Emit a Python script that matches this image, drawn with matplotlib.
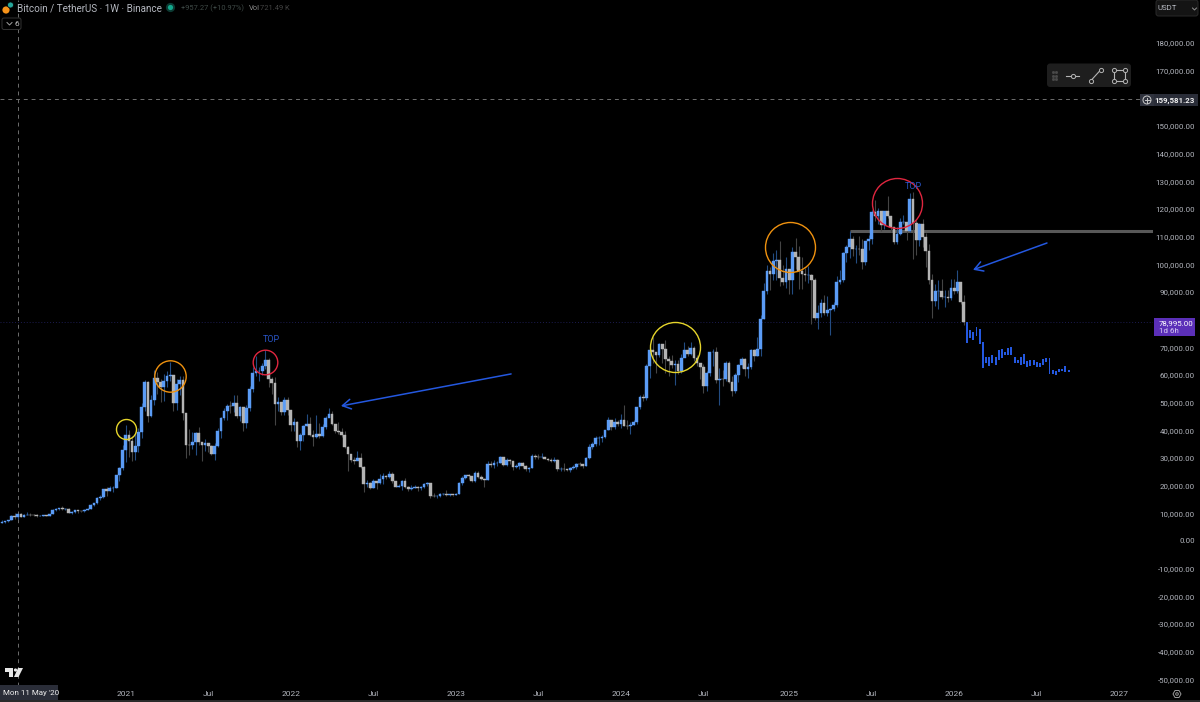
import numpy as np
from matplotlib import pyplot as plt
from matplotlib.patches import Circle, FancyBboxPatch, Polygon, Rectangle

plt.rcParams['font.family'] = ['Roboto', 'DejaVu Sans']

# weekly closes, week 0 is Mon 4 Jan 2021
closes_2020 = [6890, 7120, 7540, 8860, 8720, 9680, 8720, 9440, 9460, 9330, 9300, 9010, 9070, 9300, 9160, 9700, 11050, 11570, 11850, 11650, 11710, 10250, 10300, 11080, 10730, 10670, 11370, 11500, 13030, 13760, 15480, 15960, 18680, 18180, 19150, 19270, 23860, 26440, 33000]
highs_2020 = [7460, 7300, 7740, 9460, 10070, 9930, 9950, 9740, 10380, 10000, 9590, 9780, 9320, 9480, 9400, 9900, 11400, 11900, 12090, 12480, 11800, 12090, 10800, 11180, 11180, 10950, 11480, 11750, 13220, 13860, 15970, 16500, 18970, 19480, 19920, 19700, 23900, 26900, 34700]
lows_2020 = [6420, 6460, 6800, 7500, 8100, 8100, 8800, 8650, 9280, 9000, 8900, 8830, 8900, 9040, 9000, 9030, 9700, 10950, 11160, 11200, 11120, 10000, 9880, 10240, 10130, 10300, 10400, 11200, 11400, 12750, 13200, 14900, 15700, 16300, 18000, 17600, 19000, 21800, 25800]

closes_2021 = [38150, 36020, 32090, 34270, 39250, 48580, 57410, 45240, 50970, 59020, 57350, 55780, 58000, 59770, 60000, 50000, 56600, 58200, 46430, 34700, 34600, 35800, 39000, 35600, 34700, 35300, 34240, 31530, 34280, 39870, 44600, 47000, 48870, 48800, 49900, 45160, 48300, 42670, 48200, 54900, 60860, 61300, 61300, 63270, 65500, 58600, 57270, 49400, 50090, 46680, 50800, 47300]
highs_2021 = [41950, 40100, 37850, 38500, 41000, 49700, 58350, 58000, 52600, 61800, 61200, 58400, 60200, 61300, 64850, 57500, 58500, 59500, 59600, 45800, 40500, 39500, 39400, 41300, 35800, 36700, 35100, 34600, 35400, 40900, 44700, 48200, 49400, 50500, 52900, 52900, 48800, 48400, 49200, 56000, 62900, 67000, 63000, 64300, 69000, 66300, 59400, 59200, 51900, 49500, 51900, 52100]
lows_2021 = [28500, 30400, 28800, 29200, 32300, 37300, 47000, 43000, 44900, 49300, 53200, 50400, 50500, 55500, 58000, 47000, 47400, 52900, 43800, 30000, 31000, 33400, 31000, 34800, 28800, 32700, 32100, 31000, 29300, 33800, 37300, 43700, 43900, 46400, 46500, 44400, 43300, 39600, 40700, 47100, 53900, 59500, 57800, 60000, 62300, 55600, 53300, 42000, 46900, 45500, 45600, 45700]

closes_2022 = [41860, 43100, 36280, 38150, 41400, 42200, 38400, 37700, 38800, 37800, 41300, 44500, 45800, 42150, 39700, 39450, 38470, 34050, 31300, 29450, 29020, 29900, 26570, 20570, 21030, 19300, 21590, 20830, 22570, 23630, 23170, 24300, 21520, 19550, 19990, 21830, 19420, 18800, 19310, 19440, 19260, 19570, 20620, 20900, 16330, 16280, 16430, 16880, 17100, 16630, 16840, 16610]
highs_2022 = [47500, 44500, 43500, 38900, 41900, 45850, 44800, 40000, 45400, 42600, 42400, 45200, 48200, 47000, 42400, 42950, 40800, 39900, 34300, 30700, 30200, 32400, 31800, 27000, 22000, 21500, 22500, 21700, 24300, 24700, 23700, 25200, 25000, 21800, 20600, 21900, 22800, 19700, 20400, 20400, 20000, 19700, 20900, 21300, 21000, 17200, 16800, 17300, 17400, 18400, 17000, 16800]
lows_2022 = [39700, 39600, 34000, 32900, 36200, 41600, 38000, 34300, 37200, 37200, 37600, 40500, 45200, 42000, 39200, 38500, 37600, 33700, 25400, 28700, 28000, 29300, 26500, 17600, 19600, 18800, 19000, 18900, 20700, 20700, 22500, 22700, 20800, 19500, 19500, 18500, 19300, 18100, 18500, 19100, 18200, 18600, 19200, 20000, 15600, 15800, 15500, 16000, 16700, 16200, 16300, 16300]

closes_2023 = [17130, 20870, 22700, 23770, 23320, 21860, 24600, 23170, 22430, 22150, 27950, 27480, 28170, 28320, 30300, 27590, 29230, 28900, 26780, 27120, 28070, 27110, 25880, 26340, 30540, 30470, 30290, 30290, 29770, 29230, 29050, 29420, 26050, 26100, 25870, 25830, 26530, 26580, 27970, 27930, 27160, 29990, 34080, 35010, 37060, 37380, 37450, 39970, 43790, 41370, 43000, 42280]
highs_2023 = [17400, 21300, 23350, 23800, 24250, 23450, 25250, 25130, 23880, 22600, 28900, 28870, 29180, 28800, 30600, 30500, 30000, 29800, 28900, 27650, 28450, 28450, 27400, 26800, 31400, 31280, 31500, 31800, 30300, 30000, 30050, 30250, 29660, 26800, 28100, 26100, 26900, 27480, 28050, 28600, 28000, 30200, 35200, 35950, 37970, 37980, 38400, 40250, 44700, 43400, 44300, 43800]
lows_2023 = [16500, 17100, 20400, 22300, 22500, 21400, 21500, 22750, 21950, 19550, 21900, 26600, 26500, 27200, 28100, 27100, 27000, 27650, 25800, 26350, 25850, 26500, 25350, 24800, 26250, 29500, 29800, 29900, 29500, 28900, 28600, 28700, 25160, 25350, 25330, 25350, 24900, 26000, 25900, 27200, 26550, 27100, 29600, 33400, 34500, 34800, 35600, 37200, 39950, 40200, 40500, 41400]

closes_2024 = [43900, 41730, 41580, 42030, 43000, 48300, 52100, 51730, 63100, 68950, 68400, 67200, 71280, 69360, 65660, 64940, 63430, 64000, 61480, 66270, 69000, 67760, 69650, 66220, 64250, 62770, 55850, 60800, 68160, 68250, 58160, 58700, 58430, 64200, 57300, 54150, 60000, 63580, 65880, 62100, 62850, 69000, 67000, 69400, 80400, 90500, 97700, 96400, 101200, 101400, 95200, 93700, 98400]
highs_2024 = [45900, 48970, 43570, 42850, 43880, 48600, 52800, 52980, 64000, 70100, 73780, 68100, 71700, 71350, 72800, 66900, 67200, 65500, 65500, 67700, 71980, 70600, 71950, 70500, 67300, 63400, 63800, 61400, 68400, 69400, 70000, 62700, 61800, 65000, 64900, 59800, 60600, 64100, 66500, 66000, 64400, 69400, 69500, 73600, 81500, 93300, 99800, 98900, 104000, 105200, 108300, 99900, 102700]
lows_2024 = [40750, 41500, 40300, 38500, 41900, 42300, 47700, 50500, 50900, 59000, 64500, 60800, 66400, 64500, 60600, 59600, 62400, 56500, 60200, 60750, 66600, 66700, 67100, 65050, 63400, 58400, 53500, 54300, 59500, 63400, 57100, 49100, 56100, 57800, 57200, 52500, 53600, 57500, 62600, 59800, 58900, 62000, 65200, 66800, 66800, 80200, 89300, 90800, 94500, 94200, 92200, 92400, 91500]

closes_2025 = [94500, 104600, 102600, 97700, 96500, 96100, 96200, 94200, 80700, 82500, 86100, 82400, 83500, 83700, 85200, 93700, 94300, 104100, 106400, 109000, 105600, 105700, 105500, 100900, 108300, 109200, 119000, 117300, 119400, 114200, 119300, 117400, 113500, 108200, 111100, 115300, 115300, 112200, 123500, 115000, 108700, 114500, 110000, 104700, 94200, 86800, 90400, 90400, 88100, 88100, 87800, 91500]
highs_2025 = [95900, 106400, 109600, 106500, 102500, 98800, 99500, 96500, 95000, 85300, 87500, 88800, 88500, 84200, 86400, 95700, 97900, 104400, 107100, 111900, 110400, 106800, 110400, 109000, 108500, 110500, 119500, 123200, 120200, 119300, 119300, 124500, 117600, 113500, 113400, 116700, 117900, 113500, 125700, 126200, 115900, 114800, 116400, 111200, 107500, 96600, 93000, 94200, 94600, 90600, 90600, 94800]
lows_2025 = [89200, 89300, 98200, 91200, 91200, 94000, 93300, 78300, 80000, 76600, 81100, 81500, 81300, 74500, 83100, 84600, 92900, 93500, 100700, 102100, 103100, 100400, 103200, 98200, 99600, 105100, 107500, 115700, 114700, 112000, 112700, 116800, 111700, 107300, 107300, 110600, 114500, 108600, 111500, 102000, 103500, 106600, 106300, 98900, 93000, 80500, 85000, 83800, 87600, 84400, 86400, 87000]

closes_2026 = [90500, 93600, 86500, 78995]
highs_2026 = [94800, 97900, 91000, 88800]
lows_2026 = [89300, 89800, 85800, 78000]

# drawn projection after the last real candle
proj_tops = [79030, 76250, 75400, 77200, 76620, 71790, 66500, 66380, 67220, 66380, 69030, 69390, 68300, 69870, 69990, 66500, 65300, 66500, 67460, 64930, 65300, 65410, 64810, 64450, 65770, 66020, 66020, 61800, 61330, 62060, 62160, 63240, 61800]
proj_bottoms = [71440, 73240, 72640, 74090, 71200, 62400, 64210, 63370, 64210, 63610, 65410, 66020, 67220, 67220, 67220, 64210, 64210, 63610, 64090, 62770, 63370, 63610, 63000, 63000, 63730, 64810, 60470, 60350, 60100, 61080, 61330, 61190, 60970]

closes = np.array(closes_2020 + closes_2021 + closes_2022 + closes_2023 + closes_2024 + closes_2025 + closes_2026, dtype=float)
highs = np.array(highs_2020 + highs_2021 + highs_2022 + highs_2023 + highs_2024 + highs_2025 + highs_2026, dtype=float)
lows = np.array(lows_2020 + lows_2021 + lows_2022 + lows_2023 + lows_2024 + lows_2025 + lows_2026, dtype=float)
opens = np.r_[6620, closes[:-1]]
weeks = np.arange(len(closes)) - len(closes_2020)
proj_weeks = weeks[-1] + 1 + np.arange(len(proj_tops))

price_ticks = list(range(-50000, 190000, 10000))
time_ticks = [0, 26, 52, 78, 104, 130, 156, 182, 209, 235, 261, 287, 313]
time_labels = ['2021', 'Jul', '2022', 'Jul', '2023', 'Jul', '2024', 'Jul', '2025', 'Jul', '2026', 'Jul', '2027']

# week, price, diameter in px, colour
circles = [(0.1, 40480, 20, '#e6d52b'), (13.95, 59450, 31.4, '#f0920f'), (44.0, 64690, 24.6, '#e0263f'),
           (173, 70110, 50, '#e6d52b'), (209.2, 106250, 50, '#f0920f'), (243.1, 122150, 50, '#e0263f')]
top_labels = [(46, 72800), (248, 128000)]
arrows = [((121.4, 60380), (67.8, 48800)), ((290.2, 107700), (266.9, 98000))]
level_start = 228.1
level_price = 112000
cross_week = -34
cross_price = 159581.23
last_price = 78995

BLUE = '#5b9cf6'
GREY = '#b4b4b4'
DRAW = '#2458e0'
TICK = '#b4b7bf'
W, H = 1200, 702

fig = plt.figure(figsize=(12, 7.02), dpi=100, facecolor='black')
ax = fig.add_axes([0, 1 - 686 / H, 1153 / W, 686 / H], facecolor='black')
ax.set_xlim(-39.6, 323.6)
ax.set_ylim(-52403, 195514)

ax.axhline(last_price, color='#1c1c50', lw=0.7, ls=(0, (1, 2)), zorder=1)
ax.axhline(cross_price, color='#6e6e6e', lw=0.7, ls=(0, (4, 4)), zorder=1)
ax.axvline(cross_week, color='#6e6e6e', lw=0.7, ls=(0, (4, 4)), zorder=1)
ax.hlines(level_price, level_start, 323.6, color='#585858', lw=2.2, zorder=2)

up = closes >= opens
wick_cols = np.where(up, '#234c82', '#444444')
ax.vlines(weeks, lows, highs, colors=wick_cols, lw=0.8, zorder=3)
body_bottom = np.minimum(opens, closes)
body_height = np.abs(closes - opens)
ax.bar(weeks, body_height, bottom=body_bottom, width=0.85, color=np.where(up, BLUE, GREY),
       edgecolor=np.where(up, BLUE, GREY), lw=0.3, zorder=4)
ax.bar(proj_weeks, np.array(proj_tops) - np.array(proj_bottoms), bottom=proj_bottoms, width=0.62,
       color=DRAW, lw=0, zorder=4)

for wk, price, size, col in circles:
    ax.plot([wk], [price], marker='o', ms=size * 0.72, mfc='none', mec=col, mew=1.0, zorder=5)
for wk, price in top_labels:
    ax.text(wk, price, 'TOP', color='#2a56c8', fontsize=6.5, ha='center', va='center', zorder=6)
for tail, head in arrows:
    ax.annotate('', xy=head, xytext=tail, zorder=6,
                arrowprops=dict(arrowstyle='->,head_length=0.6,head_width=0.35', color=DRAW, lw=1.1,
                                shrinkA=0, shrinkB=0))

ax.set_yticks(price_ticks)
ax.set_yticklabels(['{:,.2f}'.format(p) for p in price_ticks])
ax.yaxis.tick_right()
ax.tick_params(axis='y', length=0, pad=30, labelsize=5.7, labelcolor=TICK)
for lab in ax.get_yticklabels():
    lab.set_ha('right')
ax.set_xticks(time_ticks)
ax.set_xticklabels(time_labels)
ax.tick_params(axis='x', length=0, pad=3.5, labelsize=6.0, labelcolor=TICK)
for side in ax.spines.values():
    side.set_visible(False)

# chrome of the trading screen, in screen pixels
ui = fig.add_axes([0, 0, 1, 1], facecolor='none', zorder=10)
ui.set_xlim(0, W)
ui.set_ylim(H, 0)
ui.axis('off')


def box(x0, y0, x1, y1, col, edge='none', rad=0.0):
    if rad:
        ui.add_patch(FancyBboxPatch((x0, y0), x1 - x0, y1 - y0, boxstyle='round,pad=0,rounding_size=%s' % rad,
                                    fc=col, ec=edge, lw=0.7))
    else:
        ui.add_patch(Rectangle((x0, y0), x1 - x0, y1 - y0, fc=col, ec=edge, lw=0.7))


def label(x, y, s, col, size=5.7, ha='left', weight='normal'):
    ui.text(x, y, s, color=col, fontsize=size, ha=ha, va='center', fontweight=weight)


# header
ui.add_patch(Circle((6, 10), 3.6, fc='#f7931a', ec='none'))
ui.add_patch(Circle((10.5, 5), 3.0, fc='#26a69a', ec='black', lw=0.5))
label(17, 8.5, 'Bitcoin / TetherUS · 1W · Binance', '#b4b7bf', size=7.1)
ui.add_patch(Circle((170.5, 7.5), 4.6, fc='#0c3a33', ec='none'))
ui.add_patch(Circle((170.5, 7.5), 2.6, fc='#12a88c', ec='none'))
label(181, 8, '+957.27 (+10.97%)', '#3f4a47', size=5.4)
label(249, 8, 'Vol', '#8a8a8a', size=5.4)
label(260, 8, '721.49 K', '#444444', size=5.4)
box(2, 18, 21, 29.5, '#000000', edge='#333333', rad=2)
ui.plot([7, 9.5, 12], [22.5, 25, 22.5], color='#a0a0a0', lw=0.7)
label(14.5, 23.5, '6', '#c8c8c8', size=6.0)

# right side controls
box(1156, 0, 1198, 16, '#141414', edge='#2a2a2a', rad=2.5)
label(1158, 8.5, 'USDT', '#b4b7bf', size=5.7)
ui.plot([1192.5, 1194.5, 1196.5], [8, 10, 8], color='#909090', lw=0.7)

box(1047, 63.5, 1131, 87, '#1e1e1e', rad=3)
for dx in (1052.5, 1056):
    for dy in (72, 75.5, 79):
        ui.plot([dx], [dy], 's', ms=1.0, color='#4a4a4a')
ui.plot([1066, 1079], [75.5, 75.5], color='#b4b4b4', lw=0.8)
ui.plot([1072.5], [75.5], 'o', ms=3, mfc='#1e1e1e', mec='#b4b4b4', mew=0.7)
ui.plot([1091, 1101], [80.5, 69.5], color='#b4b4b4', lw=0.8)
ui.plot([1091, 1101], [80.5, 69.5], 'o', ms=3, mfc='#1e1e1e', mec='#b4b4b4', mew=0.7)
ui.add_patch(Rectangle((1114, 69.5), 10.5, 11, fc='none', ec='#b4b4b4', lw=0.8))
ui.plot([1114, 1124.5, 1114, 1124.5], [69.5, 69.5, 80.5, 80.5], 'o', ls='none', ms=3, mfc='#1e1e1e',
        mec='#b4b4b4', mew=0.7)

# price tags
box(1140, 94, 1154, 106, '#30333e')
ui.add_patch(Circle((1147, 100), 4, fc='none', ec='#c8c8c8', lw=0.7))
ui.plot([1144.5, 1149.5], [100, 100], color='#c8c8c8', lw=0.7)
ui.plot([1147, 1147], [97.5, 102.5], color='#c8c8c8', lw=0.7)
box(1154, 94, 1198, 106, '#2a2d38')
label(1195, 100, '{:,.2f}'.format(cross_price), '#eeeeee', ha='right', weight='bold')
box(1154, 318, 1194.5, 336, '#5b2fb8')
label(1159, 323, '{:,.2f}'.format(last_price), '#ffffff')
label(1159, 331, '1d 6h', '#d8ccf2')

# time axis extras
box(0, 685, 58, 700, '#2a2d38')
label(3, 693, "Mon 11 May '20", '#eeeeee', size=5.8)
box(0, 700, W, H, '#2a2a2a')
ui.add_patch(Polygon([(5, 668), (13, 668), (13, 677), (9, 677), (9, 671.5), (5, 671.5)], fc='#e6e6e6', ec='none'))
ui.add_patch(Circle((15.5, 670), 1.6, fc='#e6e6e6', ec='none'))
ui.add_patch(Polygon([(18, 668), (23, 668), (18.5, 677), (14, 677)], fc='#e6e6e6', ec='none'))
ui.add_patch(Polygon([(1173, 694), (1175, 690.5), (1179, 690.5), (1181, 694), (1179, 697.5), (1175, 697.5)],
                     fc='none', ec='#9a9a9a', lw=0.7))
ui.add_patch(Circle((1177, 694), 1.3, fc='none', ec='#9a9a9a', lw=0.7))

fig.savefig('out.png', dpi=100, facecolor='black')
